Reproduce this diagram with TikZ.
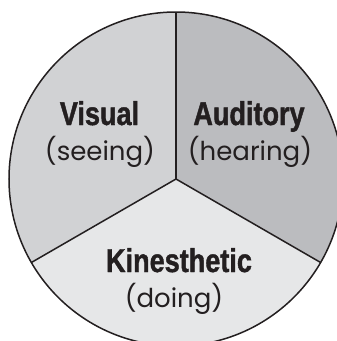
\documentclass[tikz,border=0pt]{standalone}
\usepackage{fontspec}
\setmainfont{Liberation Sans}
\newfontfamily\headfont[FakeStretch=0.82, BoldFeatures={FakeBold=1.2}]{Liberation Sans}
\newfontfamily\subfont{Poppins}
\definecolor{visualc}{HTML}{D1D2D4}
\definecolor{auditc}{HTML}{BBBCBF}
\definecolor{kinc}{HTML}{E6E7E8}
\definecolor{inkc}{HTML}{231F20}
\tikzset{
  head/.style={anchor=base, inner sep=0pt, text=inkc, font=\headfont\bfseries\fontsize{33}{36}\selectfont},
  sub/.style={anchor=base, inner sep=0pt, text=inkc, font=\subfont\fontsize{26}{30}\selectfont},
  edge/.style={draw=inkc, line width=1.5pt}
}
\begin{document}
\begin{tikzpicture}[x=1pt,y=-1pt]
\useasboundingbox (0,0) rectangle (337,341);
\clip (0,0) rectangle (337,341);
\coordinate (c) at (176,179);
\def\R{167}
\fill[visualc] (c) -- ++(0,-\R) arc[start angle=-90, end angle=-210, radius=\R] -- cycle;
\fill[auditc] (c) -- ++(0,-\R) arc[start angle=-90, end angle=30, radius=\R] -- cycle;
\fill[kinc] (c) -- ++(30:\R) arc[start angle=30, end angle=150, radius=\R] -- cycle;
\draw[edge] (c) circle[radius=\R];
\draw[edge] (c) -- ++(0,-\R);
\draw[edge] (c) -- ++(30:\R);
\draw[edge] (c) -- ++(150:\R);
\node[head] (v) at (99.5,125) {Visual};
\node[sub] (vs) at (100,160) {(seeing)};
\node[head] (a) at (249,125) {Auditory};
\node[sub] (as) at (250,160) {(hearing)};
\node[head] (k) at (179,272) {Kinesthetic};
\node[sub] (ks) at (174,307) {(doing)};
\end{tikzpicture}
\end{document}
